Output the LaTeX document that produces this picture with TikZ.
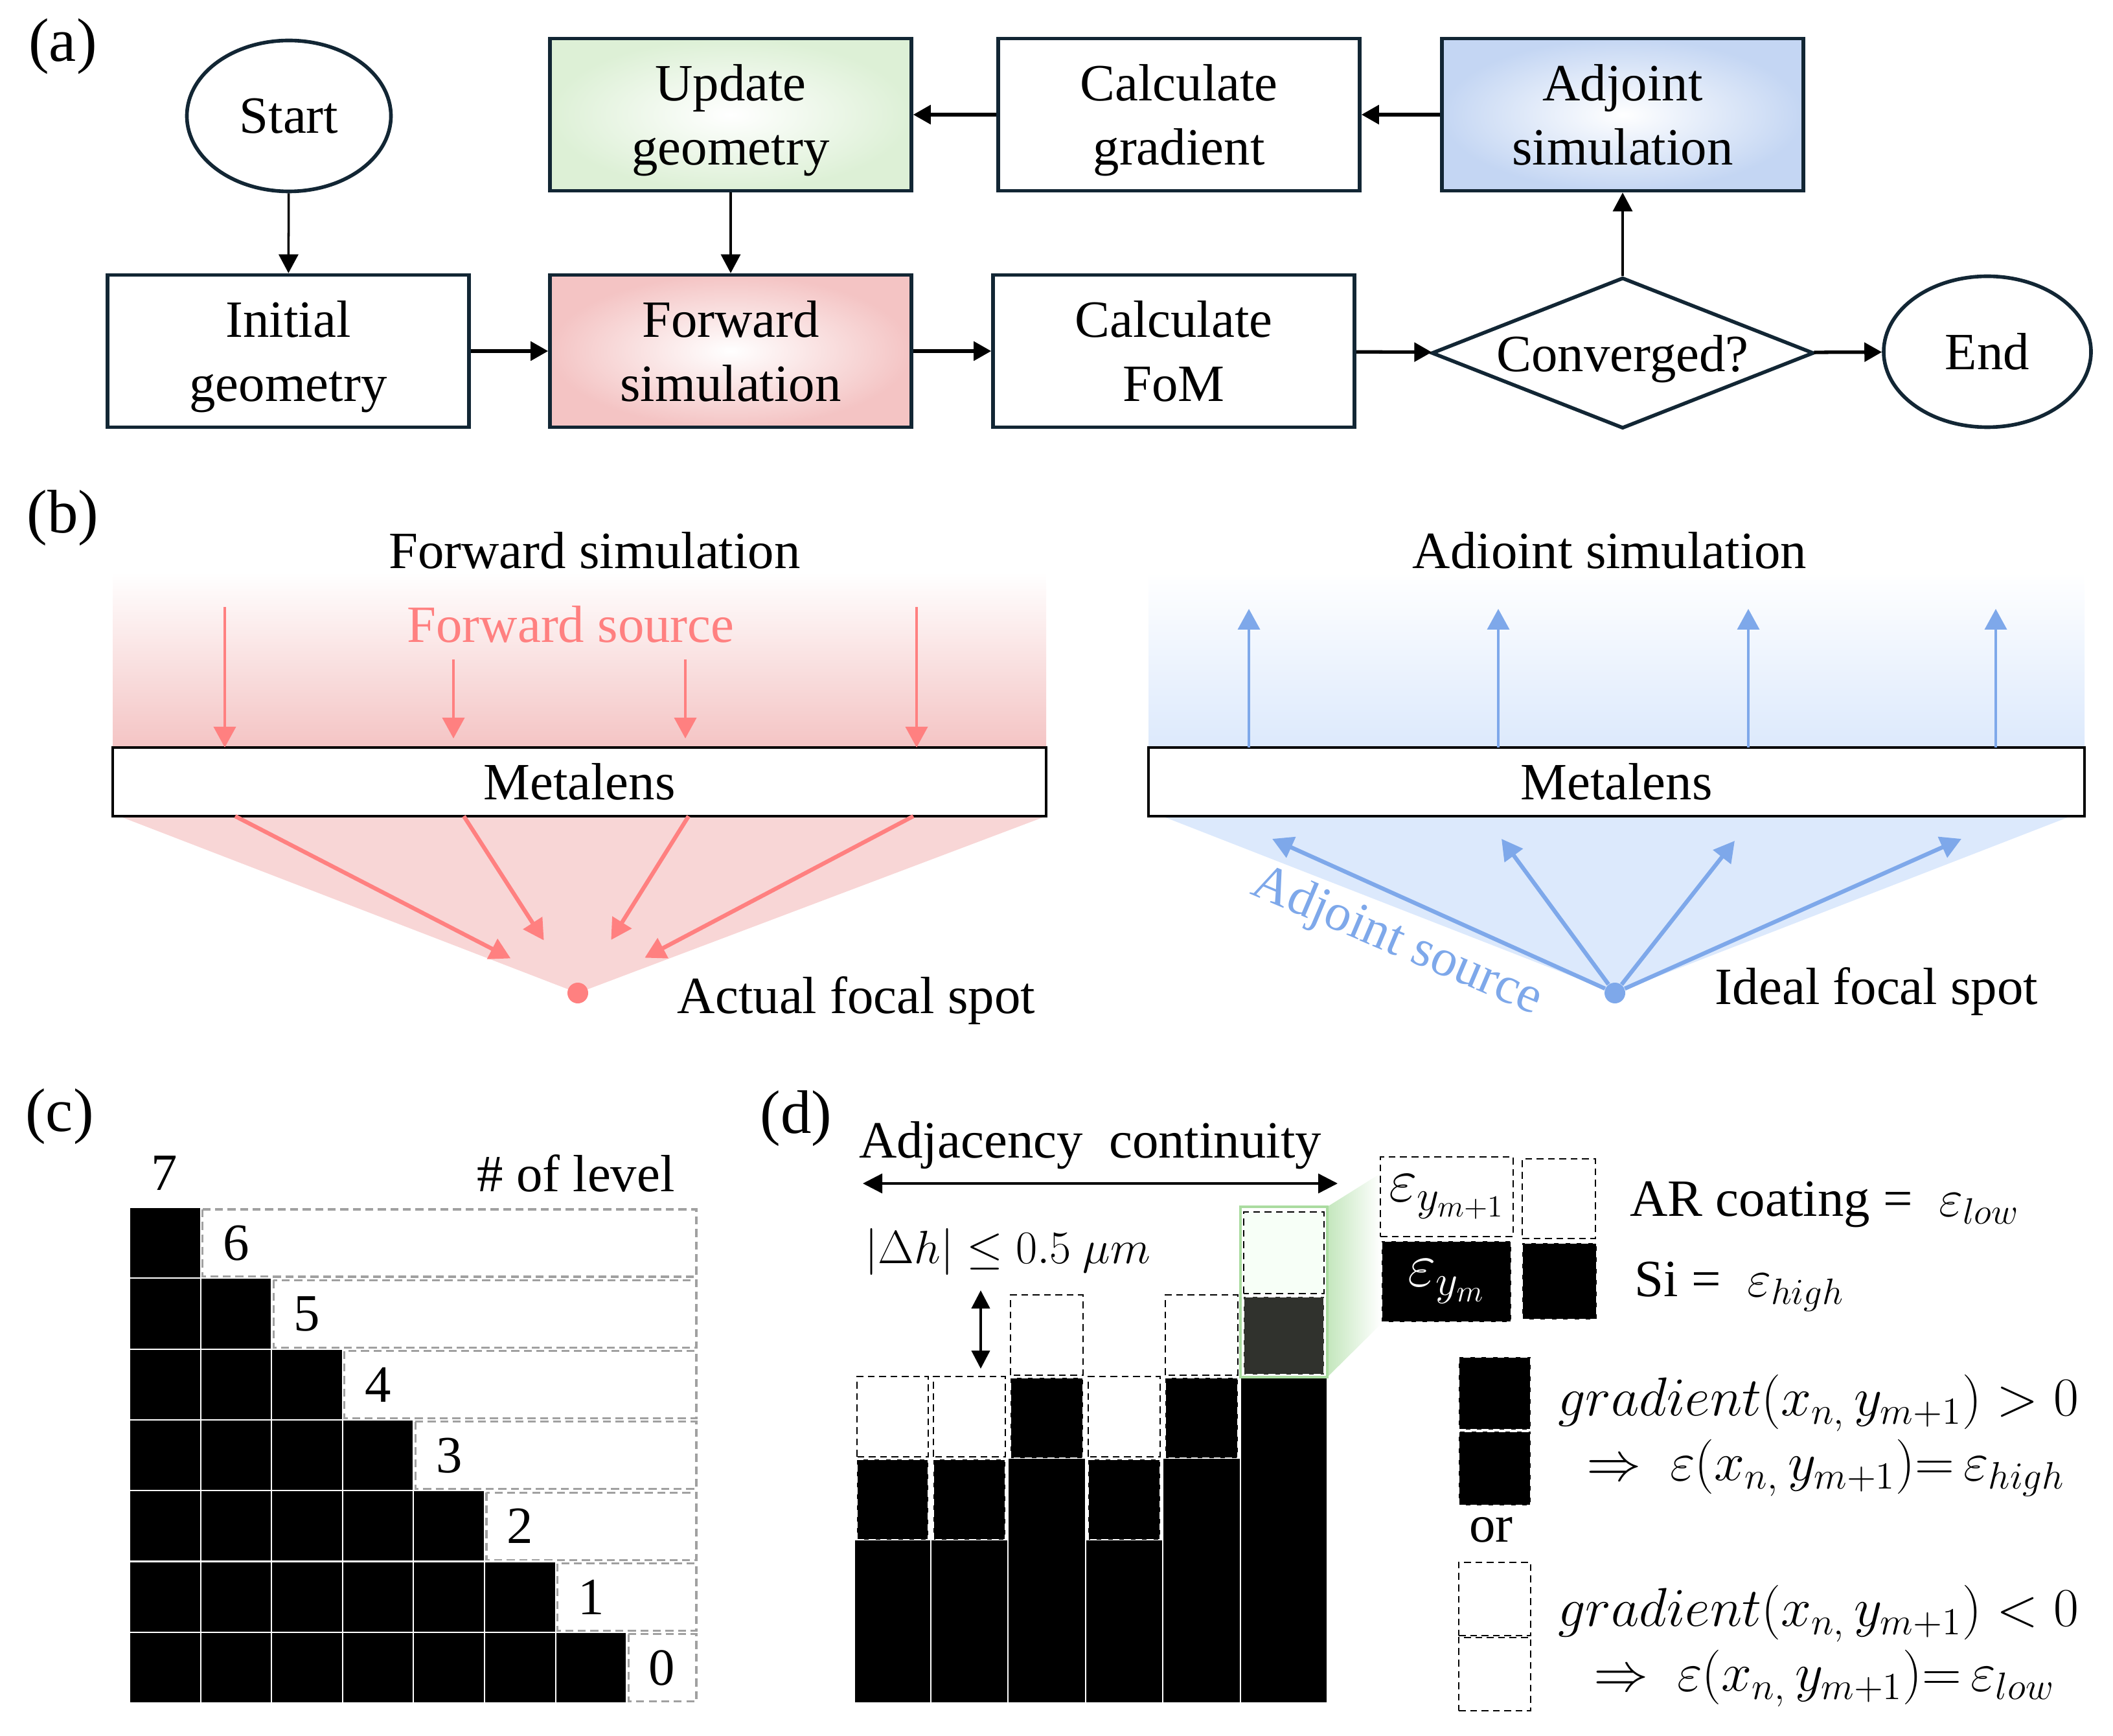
\RequirePackage{fix-cm}
\documentclass[tikz,border=0pt]{standalone}
\usepackage{fontspec}
\setmainfont{Liberation Serif}
\usepackage{amsmath}
\usepackage{amssymb}
\usetikzlibrary{shapes.geometric, arrows.meta, positioning, calc}
\definecolor{boxnavy}{RGB}{18,38,52}
\definecolor{updgreen}{RGB}{221,240,214}
\definecolor{fwdpink}{RGB}{244,196,196}
\definecolor{adjblue}{RGB}{196,214,243}
\definecolor{raypink}{RGB}{255,128,128}
\definecolor{fanpink}{RGB}{248,214,214}
\definecolor{rayblue}{RGB}{126,168,234}
\definecolor{fanblue}{RGB}{220,233,252}
\definecolor{cellgrey}{RGB}{160,160,160}
\definecolor{hlgreen}{RGB}{170,220,160}
\definecolor{darkcell}{RGB}{48,50,45}
\newcommand{\figtxt}{\fontsize{23}{28}\selectfont}
\newcommand{\mathtxt}{\fontsize{24}{29}\selectfont}
\newcommand{\paneltxt}{\fontsize{27}{32}\selectfont}

\tikzset{
    panel/.style={font=\paneltxt, inner sep=0pt},
    flowbox/.style={rectangle, draw=boxnavy, line width=1.6pt, minimum width=5.58cm, minimum height=2.35cm, align=center, text depth=0pt, font=\figtxt},
    flowend/.style={ellipse, draw=boxnavy, line width=1.6pt, minimum height=2.33cm, font=\figtxt},
    flowarr/.style={-{Triangle[length=0.27cm,width=0.29cm]}, line width=1.5pt},
    flowarrthin/.style={-{Triangle[length=0.29cm,width=0.3cm]}, line width=1pt},
    lens/.style={rectangle, draw=black, line width=1.3pt, fill=white, minimum height=1.06cm, font=\figtxt},
    fwdray/.style={raypink, line width=1.1pt, -{Triangle[length=0.32cm,width=0.34cm]}},
    adjray/.style={rayblue, line width=1.1pt, -{Triangle[length=0.32cm,width=0.34cm]}},
    lvlbox/.style={draw=cellgrey, line width=0.9pt, dash pattern=on 3.5pt off 2pt},
    blkcell/.style={fill=black, draw=white, line width=0.6pt},
    dashw/.style={fill=white, draw=black, line width=0.8pt, dash pattern=on 3pt off 2pt},
    dashb/.style={fill=black, draw=white, line width=0.8pt, dash pattern=on 3pt off 2pt},
    legbox/.style={rectangle, line width=0.8pt, dash pattern=on 3pt off 2pt, inner sep=0pt},
}

\begin{document}
\begin{tikzpicture}
    \useasboundingbox (0,0) rectangle (32.62,-26.80);

    % Pannello (a): ciclo di ottimizzazione
    \node[panel] (labA) at (0.97,-0.72) {(a)};
    \node[flowend, minimum width=3.15cm] (start) at (4.46,-1.79) {Start};
    \node[flowbox, inner color=white, outer color=updgreen] (update) at (11.28,-1.77) {Update\\geometry};
    \node[flowbox] (grad) at (18.20,-1.77) {Calculate\\gradient};
    \node[flowbox, inner color=white, outer color=adjblue] (adjoint) at (25.05,-1.77) {Adjoint\\simulation};
    \node[flowbox] (init) at (4.45,-5.42) {Initial\\geometry};
    \node[flowbox, inner color=white, outer color=fwdpink] (fwd) at (11.28,-5.42) {Forward\\simulation};
    \node[flowbox] (fom) at (18.12,-5.42) {Calculate\\FoM};
    \node[diamond, aspect=2.5, draw=boxnavy, line width=1.6pt, inner sep=0pt, minimum width=5.9cm, minimum height=2.33cm, text depth=0pt, font=\figtxt] (conv) at (25.05,-5.45) {Converged?};
    \node[flowend, minimum width=3.2cm] (end) at (30.68,-5.43) {End};

    \draw[flowarrthin] (start) -- (init);
    \draw[flowarrthin] (update) -- (fwd);
    \draw[flowarrthin] (conv) -- (adjoint);
    \draw[flowarr] (init) -- (fwd);
    \draw[flowarr] (fwd) -- (fom);
    \draw[flowarr] (fom) -- (conv);
    \draw[flowarr] (conv) -- (end);
    \draw[flowarr] (adjoint) -- (grad);
    \draw[flowarr] (grad) -- (update);

    % Pannello (b): simulazione diretta
    \node[panel] (labB) at (0.97,-8.00) {(b)};
    \node[font=\figtxt] (titF) at (9.18,-8.50) {Forward simulation};
    \shade[top color=white, bottom color=fwdpink] (1.74,-8.83) rectangle (16.15,-11.54);
    \fill[fanpink] (1.84,-12.60) -- (16.15,-12.60) -- (8.92,-15.33) -- cycle;
    \node[lens, minimum width=14.41cm] (lensF) at (8.945,-12.07) {Metalens};
    \node[font=\figtxt, text=raypink] (srcF) at (8.81,-9.64) {Forward source};
    \foreach \x/\a/\b [count=\i] in {3.47/-9.37/-11.54, 7.00/-10.18/-11.40, 10.58/-10.18/-11.40, 14.15/-9.37/-11.54}{
        \coordinate (fs\i) at (\x,\a);
        \coordinate (fe\i) at (\x,\b);
        \draw[fwdray] (fs\i) -- (fe\i);
    }
    \node[circle, fill=raypink, inner sep=0pt, minimum size=0.32cm] (focusF) at (8.92,-15.33) {};
    \foreach \x/\s [count=\i] in {3.63/1.0, 7.16/0.8, 10.63/0.8, 14.10/1.0}{
        \coordinate (fb\i) at (\x,-12.60);
        \draw[fwdray, line width=1.8pt, shorten >=\s cm] (fb\i) -- (focusF);
    }
    \node[font=\figtxt] (spotF) at (13.22,-15.45) {Actual focal spot};

    % Pannello (b): simulazione aggiunta
    \node[font=\figtxt] (titA) at (24.85,-8.50) {Adioint simulation};
    \shade[top color=white, bottom color=fanblue] (17.73,-8.83) rectangle (32.18,-11.54);
    \fill[fanblue] (17.94,-12.60) -- (31.97,-12.60) -- (24.93,-15.33) -- cycle;
    \node[lens, minimum width=14.45cm] (lensA) at (24.955,-12.07) {Metalens};
    \foreach \x [count=\i] in {19.28, 23.13, 26.99, 30.81}{
        \coordinate (as\i) at (\x,-11.54);
        \coordinate (ae\i) at (\x,-9.40);
        \draw[adjray] (as\i) -- (ae\i);
    }
    \node[circle, fill=rayblue, inner sep=0pt, minimum size=0.32cm] (focusA) at (24.93,-15.33) {};
    \foreach \x/\y [count=\i] in {19.64/-12.95, 23.18/-12.95, 26.78/-12.98, 30.28/-12.95}{
        \coordinate (ta\i) at (\x,\y);
        \draw[adjray, line width=1.8pt] (focusA) -- (ta\i);
    }
    \node[font=\figtxt, text=rayblue, rotate=-23] (srcA) at (21.56,-14.55) {Adjoint source};
    \node[font=\figtxt] (spotA) at (28.97,-15.31) {Ideal focal spot};

    % Pannello (c): livelli
    \node[panel] (labC) at (0.92,-17.24) {(c)};
    \node[font=\figtxt] (top7) at (2.54,-18.11) {7};
    \node[font=\figtxt] (nlev) at (8.89,-18.11) {\# of level};
    \foreach \r in {0,...,6}{
        \pgfmathsetmacro{\ytop}{-18.64-\r*1.093}
        \pgfmathsetmacro{\xd}{2.00+(\r+1)*1.096}
        \pgfmathtruncatemacro{\lv}{6-\r}
        \foreach \c in {0,...,\r}{
            \draw[blkcell] ({2.00+\c*1.096},\ytop) rectangle ++(1.096,-1.093);
        }
        \draw[lvlbox] (\xd+0.03,\ytop-0.03) rectangle (10.75,\ytop-1.07);
        \node[font=\figtxt] (lvl\r) at (\xd+0.55,\ytop-0.55) {\lv};
    }

    % Pannello (d): continuita' tra colonne
    \node[panel] (labD) at (12.29,-17.27) {(d)};
    \node[font=\figtxt] (adjtxt) at (16.83,-17.68) {Adjacency\ \ continuity};
    \coordinate (adjL) at (13.32,-18.27);
    \coordinate (adjR) at (20.65,-18.27);
    \draw[{Triangle[length=0.3cm,width=0.3cm]}-{Triangle[length=0.3cm,width=0.3cm]}, line width=1pt] (adjL) -- (adjR);
    \node[font=\fontsize{20.5}{25}\selectfont] (dh) at (15.56,-19.32) {$|\Delta h| \leq 0.5\ \mu m$};
    \coordinate (dhT) at (15.14,-19.92);
    \coordinate (dhB) at (15.14,-21.13);
    \draw[{Triangle[length=0.28cm,width=0.28cm]}-{Triangle[length=0.28cm,width=0.28cm]}, line width=1.2pt] (dhT) -- (dhB);
    \foreach \xl/\xr/\s in {13.19/14.37/2, 14.37/15.56/2, 15.56/16.76/3, 16.76/17.95/2, 17.95/19.15/3}{
        \pgfmathsetmacro{\ya}{-26.29+1.26*\s}
        \pgfmathsetmacro{\yb}{-26.29+1.26*(\s+1)}
        \pgfmathsetmacro{\yc}{-26.29+1.26*(\s+2)}
        \draw[blkcell] (\xl,-26.29) rectangle (\xr,\ya);
        \draw[dashb] (\xl+0.04,\ya) rectangle (\xr-0.04,\yb-0.02);
        \draw[dashw] (\xl+0.04,\yb+0.02) rectangle (\xr-0.04,\yc);
    }
    \draw[blkcell] (19.15,-26.29) rectangle (20.49,-21.25);
    \shade[left color=hlgreen!70, right color=white] (20.49,-18.63) -- (21.32,-18.11) -- (21.32,-20.44) -- (20.49,-21.26) -- cycle;
    \draw[fill=darkcell, draw=white, line width=0.8pt, dash pattern=on 3pt off 2pt] (19.20,-21.22) rectangle (20.44,-20.02);
    \draw[dashw, fill=green!3] (19.20,-19.97) rectangle (20.44,-18.71);
    \draw[hlgreen, line width=1pt] (19.15,-21.26) rectangle (20.49,-18.63);

    % Legenda
    \node[legbox, draw=black, fill=white, minimum width=2.05cm, minimum height=1.23cm, font=\fontsize{27}{32}\selectfont] (epsUp) at (22.335,-18.475) {$\varepsilon_{y_{m+1}}$};
    \node[legbox, draw=black, fill=white, minimum width=1.13cm, minimum height=1.23cm] (airA) at (24.065,-18.505) {};
    \node[legbox, draw=white, fill=black, text=white, minimum width=2.0cm, minimum height=1.25cm, font=\fontsize{27}{32}\selectfont] (epsDn) at (22.33,-19.785) {$\varepsilon_{y_m}$};
    \node[legbox, draw=white, fill=black, minimum width=1.15cm, minimum height=1.18cm] (siA) at (24.075,-19.78) {};
    \node[font=\figtxt, anchor=west] (arc) at (25.04,-18.59) {AR coating = \ $\varepsilon_{low}$};
    \node[font=\figtxt, anchor=west] (si) at (25.11,-19.86) {Si = \ $\varepsilon_{high}$};

    \node[legbox, draw=white, fill=black, minimum width=1.11cm, minimum height=1.12cm] (gpA) at (23.075,-21.51) {};
    \node[legbox, draw=white, fill=black, minimum width=1.11cm, minimum height=1.14cm] (gpB) at (23.075,-22.67) {};
    \node[font=\mathtxt, anchor=west] (gpos) at (23.93,-21.66) {$gradient(x_{n,}\,y_{m+1}) > 0$};
    \node[font=\mathtxt, anchor=west] (gposr) at (24.37,-22.66) {$\Rightarrow\ \varepsilon(x_{n,}\,y_{m+1}){=}\,\varepsilon_{high}$};
    \node[font=\figtxt] (or) at (23.02,-23.62) {or};
    \node[legbox, draw=black, fill=white, minimum width=1.11cm, minimum height=1.13cm] (gnA) at (23.075,-24.685) {};
    \node[legbox, draw=black, fill=white, minimum width=1.11cm, minimum height=1.13cm] (gnB) at (23.075,-25.845) {};
    \node[font=\mathtxt, anchor=west] (gneg) at (23.93,-24.91) {$gradient(x_{n,}\,y_{m+1}) < 0$};
    \node[font=\mathtxt, anchor=west] (gnegr) at (24.48,-25.91) {$\Rightarrow\ \varepsilon(x_{n,}\,y_{m+1}){=}\,\varepsilon_{low}$};
\end{tikzpicture}
\end{document}
